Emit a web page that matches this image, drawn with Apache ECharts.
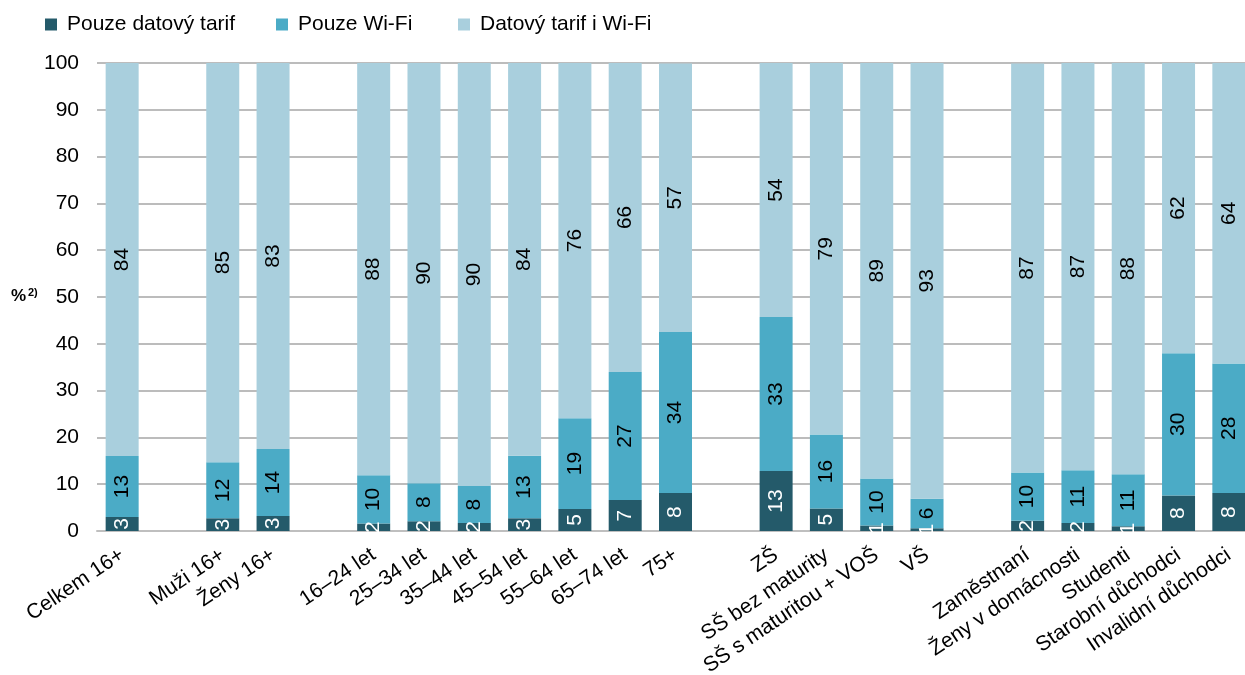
<!DOCTYPE html>
<html><head><meta charset="utf-8">
<script src="https://cdn.jsdelivr.net/npm/echarts@6/dist/echarts.min.js"></script>
<style>html,body{margin:0;padding:0;background:#fff}#c{width:1245px;height:675px}</style>
</head><body><div id="c"></div>
<script>
var categories = ['Celkem 16+','','Muži 16+','Ženy 16+','','16–24 let','25–34 let','35–44 let','45–54 let','55–64 let','65–74 let','75+','','ZŠ','SŠ bez maturity','SŠ s maturitou + VOŠ','VŠ','','Zaměstnaní','Ženy v domácnosti','Studenti','Starobní důchodci','Invalidní důchodci'];
var dataOnly = [3.0,null,2.7,3.2,null,1.6,2.1,1.7,2.7,4.7,6.6,8.1,null,12.8,4.8,1.2,0.6,null,2.2,1.7,1.0,7.6,8.1];
var wifiOnly = [13.0,null,12.0,14.3,null,10.3,8.1,7.9,13.4,19.4,27.4,34.4,null,32.9,15.8,10.0,6.3,null,10.3,11.3,11.1,30.4,27.7];
var both = [84.0,null,85.3,82.6,null,88.1,89.8,90.4,83.9,75.9,66.0,57.4,null,54.3,79.4,88.8,93.1,null,87.4,87.0,87.9,62.0,64.2];
var seriesNames = ['Pouze datový tarif','Pouze Wi-Fi','Datový tarif i Wi-Fi'];
var colors = ['#245a6a','#4babc6','#a9cfdd'];
var FONT = 'Liberation Sans, Arial, sans-serif';

var chart = echarts.init(document.getElementById('c'), null, {renderer:'canvas'});
function mk(i, data, labelColor){
  return {
    name: seriesNames[i], type:'bar', stack:'s', data:data, barWidth:33,
    itemStyle:{color:colors[i]},
    label:{show:true, position:'inside', rotate:90, color:labelColor, fontSize:21, fontFamily:FONT,
      formatter:function(p){return p.value==null?'':Math.round(p.value);}}
  };
}
function lg(i,left){
  return {data:[seriesNames[i]], left:left, top:14, padding:0, itemWidth:12, itemHeight:12, icon:'rect', selectedMode:false,
    textStyle:{fontSize:21, fontFamily:FONT, color:'#000', padding:[0,0,0,5]}};
}
chart.setOption({
  animation:false,
  color:colors,
  legend:[lg(0,45),lg(1,276),lg(2,458)],
  grid:{left:97, top:63, height:468, width:1157, containLabel:false, outerBoundsMode:'none'},
  xAxis:{type:'category', data:categories,
    axisLine:{lineStyle:{color:'#bfbfbf', width:2}}, axisTick:{show:false},
    axisLabel:{interval:0, rotate:34, fontSize:21, fontFamily:FONT, color:'#000', margin:22}},
  yAxis:{type:'value', min:0, max:100, interval:10,
    axisLine:{show:false}, axisTick:{show:false},
    splitLine:{lineStyle:{color:'#a6a6a6', width:1.5}},
    axisLabel:{fontSize:21, fontFamily:FONT, color:'#000', margin:18}},
  graphic:[
    {type:'text', left:11, top:288, style:{text:'%', font:'bold 17px '+FONT, fill:'#000'}},
    {type:'text', left:28, top:287, style:{text:'2)', font:'bold 11px '+FONT, fill:'#000'}}
  ],
  series:[mk(0,dataOnly,'#fff'), mk(1,wifiOnly,'#000'), mk(2,both,'#000')]
});
</script></body></html>
